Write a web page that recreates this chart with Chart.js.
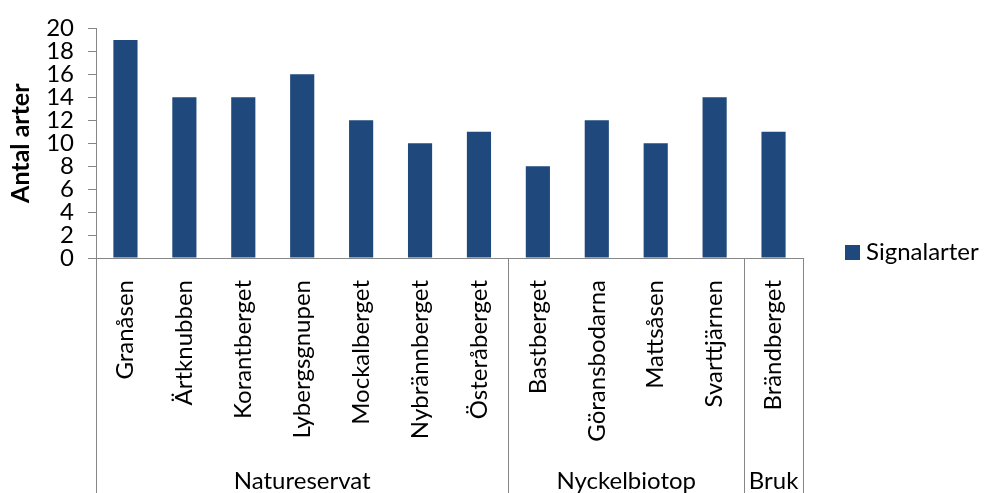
<!DOCTYPE html>
<html>
<head>
<meta charset="utf-8">
<script src="https://cdn.jsdelivr.net/npm/chart.js@4/dist/chart.umd.min.js"></script>
<style>
  html, body { margin: 0; padding: 0; background: #fff; }
  #wrap { width: 984px; height: 493px; position: relative; }
</style>
</head>
<body>
<div id="wrap"><canvas id="chart"></canvas></div>
<script>
// Signal species per site, grouped by protection type
const sites = ['Granåsen', 'Ärtknubben', 'Korantberget', 'Lybergsgnupen', 'Mockalberget',
  'Nybrännberget', 'Österåberget', 'Bastberget', 'Göransbodarna', 'Mattsåsen',
  'Svarttjärnen', 'Brändberget'];
const signalarter = [19, 14, 14, 16, 12, 10, 11, 8, 12, 10, 14, 11];
const groupNames = ['Natureservat', 'Nyckelbiotop', 'Bruk'];
const groupSizes = [7, 4, 1];
const seriesName = 'Signalarter';

const BAR = '#1F497D';
const AXIS = '#868686';
const FONT = 'Lato, "Open Sans", sans-serif';

// group separators, group labels and the legend
const groupAxis = {
  id: 'groupAxis',
  afterDraw(chart) {
    const ctx = chart.ctx;
    const x = chart.scales.x;
    const area = chart.chartArea;
    const bounds = [area.left];
    let idx = 0;
    groupSizes.forEach(n => {
      idx += n;
      if (idx < sites.length) {
        bounds.push((x.getPixelForValue(idx - 1) + x.getPixelForValue(idx)) / 2);
      } else {
        bounds.push(area.right);
      }
    });
    ctx.save();
    ctx.strokeStyle = AXIS;
    ctx.lineWidth = 1;
    bounds.forEach(b => {
      const px = Math.round(b) + 0.5;
      ctx.beginPath();
      ctx.moveTo(px, area.bottom);
      ctx.lineTo(px, chart.height);
      ctx.stroke();
    });
    ctx.fillStyle = '#000';
    ctx.font = '24px ' + FONT;
    ctx.textAlign = 'center';
    ctx.textBaseline = 'middle';
    groupNames.forEach((g, i) => {
      ctx.fillText(g, (bounds[i] + bounds[i + 1]) / 2, chart.height - 12);
    });
    // legend
    ctx.fillStyle = BAR;
    ctx.fillRect(845, 245, 15, 15);
    ctx.fillStyle = '#000';
    ctx.textAlign = 'left';
    ctx.fillText(seriesName, 866, 252);
    ctx.restore();
  }
};

new Chart(document.getElementById('chart'), {
  type: 'bar',
  data: {
    labels: sites,
    datasets: [{
      label: seriesName,
      data: signalarter,
      backgroundColor: BAR,
      categoryPercentage: 1,
      barPercentage: 0.41
    }]
  },
  options: {
    responsive: true,
    maintainAspectRatio: false,
    animation: false,
    layout: { padding: { top: 25, right: 181, left: 0, bottom: 0 } },
    plugins: {
      legend: { display: false },
      tooltip: { enabled: false }
    },
    scales: {
      x: {
        grid: { display: false },
        border: { color: AXIS, width: 1 },
        ticks: {
          autoSkip: false,
          maxRotation: 90,
          minRotation: 90,
          padding: 14,
          color: '#000',
          font: { family: FONT, size: 24 }
        },
        afterFit: s => { s.height = 235; }
      },
      y: {
        min: 0,
        max: 20,
        ticks: {
          stepSize: 2,
          autoSkip: false,
          padding: 14,
          color: '#000',
          font: { family: FONT, size: 24 }
        },
        grid: { drawOnChartArea: false, tickLength: 8, color: AXIS },
        border: { color: AXIS, width: 1 },
        title: {
          display: true,
          text: 'Antal arter',
          color: '#000',
          padding: { top: 6, bottom: 0 },
          font: { family: FONT, size: 25, weight: 'bold' }
        },
        afterFit: s => { s.width = 96; }
      }
    }
  },
  plugins: [groupAxis]
});
</script>
</body>
</html>
